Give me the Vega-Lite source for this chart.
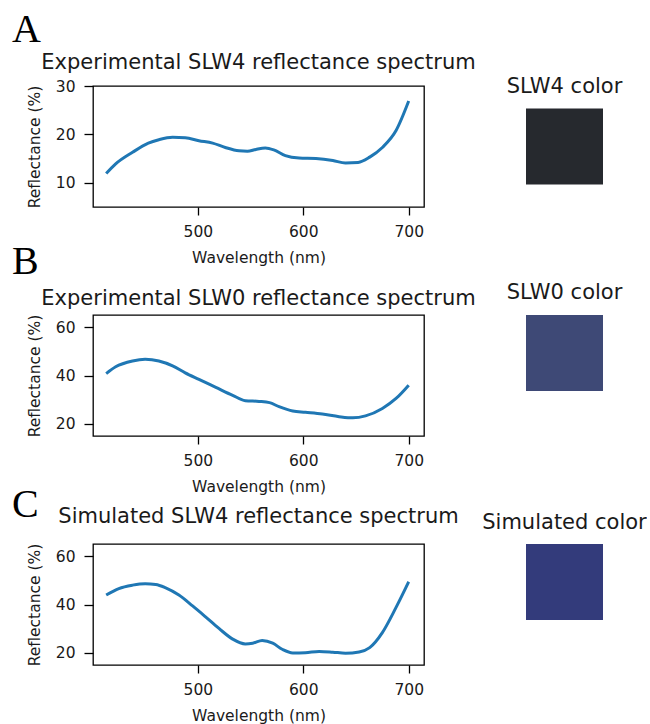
{
  "$schema": "https://vega.github.io/schema/vega-lite/v6.json",
  "background": "white",
  "padding": {"left": -10, "top": 10, "right": 0, "bottom": 0},
  "datasets": {
    "spectra": [
      {"panel": "A", "wavelength": 413, "reflectance": 11.9},
      {"panel": "A", "wavelength": 422, "reflectance": 13.9},
      {"panel": "A", "wavelength": 438, "reflectance": 16.3},
      {"panel": "A", "wavelength": 453, "reflectance": 18.2},
      {"panel": "A", "wavelength": 463, "reflectance": 18.9},
      {"panel": "A", "wavelength": 476, "reflectance": 19.4},
      {"panel": "A", "wavelength": 488, "reflectance": 19.3},
      {"panel": "A", "wavelength": 501, "reflectance": 18.7},
      {"panel": "A", "wavelength": 514, "reflectance": 18.2},
      {"panel": "A", "wavelength": 526, "reflectance": 17.3},
      {"panel": "A", "wavelength": 539, "reflectance": 16.6},
      {"panel": "A", "wavelength": 547, "reflectance": 16.5},
      {"panel": "A", "wavelength": 555, "reflectance": 16.9},
      {"panel": "A", "wavelength": 564, "reflectance": 17.2},
      {"panel": "A", "wavelength": 572, "reflectance": 16.8},
      {"panel": "A", "wavelength": 583, "reflectance": 15.6},
      {"panel": "A", "wavelength": 596, "reflectance": 15.1},
      {"panel": "A", "wavelength": 612, "reflectance": 15.0},
      {"panel": "A", "wavelength": 628, "reflectance": 14.6},
      {"panel": "A", "wavelength": 640, "reflectance": 14.1},
      {"panel": "A", "wavelength": 652, "reflectance": 14.2},
      {"panel": "A", "wavelength": 663, "reflectance": 15.3},
      {"panel": "A", "wavelength": 675, "reflectance": 17.3},
      {"panel": "A", "wavelength": 688, "reflectance": 20.8},
      {"panel": "A", "wavelength": 700, "reflectance": 26.9},
      {"panel": "B", "wavelength": 413, "reflectance": 40.8},
      {"panel": "B", "wavelength": 422, "reflectance": 43.6},
      {"panel": "B", "wavelength": 438, "reflectance": 46.0},
      {"panel": "B", "wavelength": 450, "reflectance": 46.7},
      {"panel": "B", "wavelength": 463, "reflectance": 46.0},
      {"panel": "B", "wavelength": 476, "reflectance": 44.0},
      {"panel": "B", "wavelength": 488, "reflectance": 41.1},
      {"panel": "B", "wavelength": 501, "reflectance": 38.4},
      {"panel": "B", "wavelength": 517, "reflectance": 35.1},
      {"panel": "B", "wavelength": 533, "reflectance": 31.8},
      {"panel": "B", "wavelength": 545, "reflectance": 29.6},
      {"panel": "B", "wavelength": 558, "reflectance": 29.3},
      {"panel": "B", "wavelength": 568, "reflectance": 28.8},
      {"panel": "B", "wavelength": 577, "reflectance": 27.1},
      {"panel": "B", "wavelength": 590, "reflectance": 25.3},
      {"panel": "B", "wavelength": 602, "reflectance": 24.8},
      {"panel": "B", "wavelength": 618, "reflectance": 24.1},
      {"panel": "B", "wavelength": 634, "reflectance": 23.0},
      {"panel": "B", "wavelength": 647, "reflectance": 22.5},
      {"panel": "B", "wavelength": 659, "reflectance": 23.3},
      {"panel": "B", "wavelength": 675, "reflectance": 26.4},
      {"panel": "B", "wavelength": 688, "reflectance": 30.5},
      {"panel": "B", "wavelength": 700, "reflectance": 36.0},
      {"panel": "C", "wavelength": 413, "reflectance": 43.9},
      {"panel": "C", "wavelength": 425, "reflectance": 46.6},
      {"panel": "C", "wavelength": 438, "reflectance": 48.0},
      {"panel": "C", "wavelength": 450, "reflectance": 48.6},
      {"panel": "C", "wavelength": 460, "reflectance": 48.3},
      {"panel": "C", "wavelength": 469, "reflectance": 47.0},
      {"panel": "C", "wavelength": 482, "reflectance": 43.9},
      {"panel": "C", "wavelength": 495, "reflectance": 39.4},
      {"panel": "C", "wavelength": 507, "reflectance": 35.0},
      {"panel": "C", "wavelength": 520, "reflectance": 30.1},
      {"panel": "C", "wavelength": 533, "reflectance": 25.7},
      {"panel": "C", "wavelength": 545, "reflectance": 23.7},
      {"panel": "C", "wavelength": 552, "reflectance": 24.0},
      {"panel": "C", "wavelength": 561, "reflectance": 25.1},
      {"panel": "C", "wavelength": 571, "reflectance": 24.0},
      {"panel": "C", "wavelength": 580, "reflectance": 21.5},
      {"panel": "C", "wavelength": 590, "reflectance": 20.0},
      {"panel": "C", "wavelength": 602, "reflectance": 20.1},
      {"panel": "C", "wavelength": 615, "reflectance": 20.6},
      {"panel": "C", "wavelength": 628, "reflectance": 20.3},
      {"panel": "C", "wavelength": 640, "reflectance": 19.9},
      {"panel": "C", "wavelength": 653, "reflectance": 20.4},
      {"panel": "C", "wavelength": 663, "reflectance": 22.2},
      {"panel": "C", "wavelength": 675, "reflectance": 28.4},
      {"panel": "C", "wavelength": 688, "reflectance": 38.8},
      {"panel": "C", "wavelength": 700, "reflectance": 49.4}
    ]
  },
  "config": {
    "font": "DejaVu Sans",
    "view": {"stroke": "black", "strokeWidth": 1.3},
    "axis": {
      "domain": false,
      "grid": false,
      "tickColor": "black",
      "tickSize": 8,
      "tickWidth": 1.3,
      "labelFont": "DejaVu Sans",
      "labelFontSize": 15.5,
      "labelColor": "#1a1a1a",
      "labelPadding": 9,
      "labelFlush": false,
      "titleFont": "DejaVu Sans",
      "titleFontSize": 15.5,
      "titleFontWeight": "normal",
      "titleColor": "#1a1a1a"
    },
    "axisX": {"titlePadding": 11},
    "axisY": {"titlePadding": 12.5, "tickSize": 9},
    "title": {"font": "DejaVu Sans", "fontSize": 21, "fontWeight": "normal", "color": "#1a1a1a", "anchor": "middle"}
  },
  "columns": 3,
  "spacing": {"row": 108, "column": 102},
  "bounds": "flush",
  "align": "each",
  "center": true,
  "concat": [
    {
      "width": 1, "height": 121,
      "view": {"stroke": null},
      "title": {"text": "A", "font": "Liberation Serif", "fontSize": 40, "color": "black", "anchor": "start", "frame": "group", "dx": 22, "offset": 35.9},
      "data": {"values": []},
      "mark": "point"
    },
    {
      "width": 331, "height": 121,
      "title": {"text": "Experimental SLW4 reflectance spectrum", "offset": 5.7},
      "data": {"name": "spectra"},
      "transform": [{"filter": "datum.panel === 'A'"}],
      "mark": {"type": "line", "color": "#1f77b4", "strokeWidth": 3, "interpolate": "monotone"},
      "encoding": {
        "x": {"field": "wavelength", "type": "quantitative", "scale": {"domain": [400.5, 714.5], "nice": false, "zero": false}, "axis": {"values": [500, 600, 700], "title": "Wavelength (nm)"}},
        "y": {"field": "reflectance", "type": "quantitative", "scale": {"domain": [5, 30], "nice": false, "zero": false}, "axis": {"values": [10, 20, 30], "title": "Reflectance (%)"}}
      }
    },
    {
      "width": 77, "height": 76,
      "view": {"stroke": null},
      "title": {"text": "SLW4 color", "offset": 12},
      "data": {"values": [{"sample": "SLW4"}]},
      "mark": {"type": "rect", "color": "#26292e"}
    },
    {
      "width": 1, "height": 121,
      "view": {"stroke": null},
      "title": {"text": "B", "font": "Liberation Serif", "fontSize": 40, "color": "black", "anchor": "start", "frame": "group", "dx": 22, "offset": 33.4},
      "data": {"values": []},
      "mark": "point"
    },
    {
      "width": 331, "height": 121,
      "title": {"text": "Experimental SLW0 reflectance spectrum", "offset": 5.3},
      "data": {"name": "spectra"},
      "transform": [{"filter": "datum.panel === 'B'"}],
      "mark": {"type": "line", "color": "#1f77b4", "strokeWidth": 3, "interpolate": "monotone"},
      "encoding": {
        "x": {"field": "wavelength", "type": "quantitative", "scale": {"domain": [400.5, 714.5], "nice": false, "zero": false}, "axis": {"values": [500, 600, 700], "title": "Wavelength (nm)"}},
        "y": {"field": "reflectance", "type": "quantitative", "scale": {"domain": [15, 65], "nice": false, "zero": false}, "axis": {"values": [20, 40, 60], "title": "Reflectance (%)"}}
      }
    },
    {
      "width": 77, "height": 76,
      "view": {"stroke": null},
      "title": {"text": "SLW0 color", "offset": 12},
      "data": {"values": [{"sample": "SLW0"}]},
      "mark": {"type": "rect", "color": "#3e4976"}
    },
    {
      "width": 1, "height": 121,
      "view": {"stroke": null},
      "title": {"text": "C", "font": "Liberation Serif", "fontSize": 40, "color": "black", "anchor": "start", "frame": "group", "dx": 22, "offset": 19.2},
      "data": {"values": []},
      "mark": "point"
    },
    {
      "width": 331, "height": 121,
      "title": {"text": "Simulated SLW4 reflectance spectrum", "offset": 16.3},
      "data": {"name": "spectra"},
      "transform": [{"filter": "datum.panel === 'C'"}],
      "mark": {"type": "line", "color": "#1f77b4", "strokeWidth": 3, "interpolate": "monotone"},
      "encoding": {
        "x": {"field": "wavelength", "type": "quantitative", "scale": {"domain": [400.5, 714.5], "nice": false, "zero": false}, "axis": {"values": [500, 600, 700], "title": "Wavelength (nm)"}},
        "y": {"field": "reflectance", "type": "quantitative", "scale": {"domain": [15, 65], "nice": false, "zero": false}, "axis": {"values": [20, 40, 60], "title": "Reflectance (%)"}}
      }
    },
    {
      "width": 77, "height": 76,
      "view": {"stroke": null},
      "title": {"text": "Simulated color", "offset": 11.5},
      "data": {"values": [{"sample": "Simulated SLW4"}]},
      "mark": {"type": "rect", "color": "#333b7b"}
    }
  ]
}
